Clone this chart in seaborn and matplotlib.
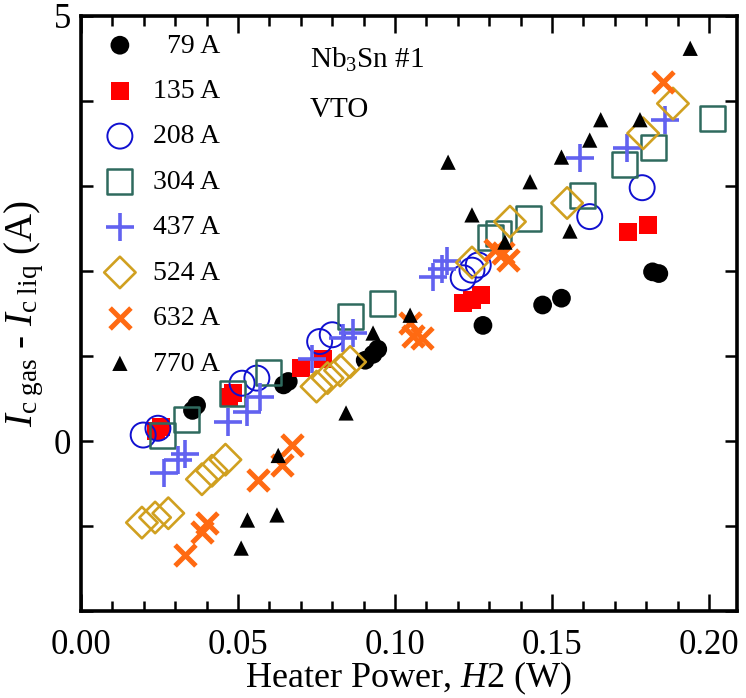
import pandas as pd
import matplotlib.pyplot as plt
import seaborn as sns
from matplotlib.ticker import MultipleLocator, FormatStrFormatter

# Heater power (W) and Ic(gas) - Ic(liq) (A), one pair of lists per transport current
x_79 = [0.0355, 0.0368, 0.0645, 0.0660, 0.0905, 0.0930, 0.0945, 0.1280, 0.1470, 0.1530, 0.1820, 0.1840]
y_79 = [0.36, 0.42, 0.66, 0.70, 0.95, 1.02, 1.08, 1.36, 1.60, 1.68, 1.99, 1.97]

x_135 = [0.0240, 0.0255, 0.0470, 0.0485, 0.0700, 0.0770, 0.1215, 0.1245, 0.1275, 0.1742, 0.1806]
y_135 = [0.12, 0.17, 0.52, 0.56, 0.86, 0.96, 1.62, 1.66, 1.72, 2.46, 2.54]

x_208 = [0.0198, 0.0245, 0.0513, 0.0560, 0.0760, 0.0800, 0.1217, 0.1245, 0.1265, 0.1620, 0.1787]
y_208 = [0.07, 0.15, 0.68, 0.74, 1.17, 1.25, 1.92, 2.01, 2.07, 2.64, 2.98]

x_304 = [0.0260, 0.0335, 0.0484, 0.0597, 0.0857, 0.0959, 0.1305, 0.1330, 0.1424, 0.1596, 0.1732, 0.1822, 0.2010]
y_304 = [0.06, 0.25, 0.56, 0.81, 1.46, 1.62, 2.40, 2.44, 2.62, 2.89, 3.25, 3.45, 3.80]

x_437 = [0.0265, 0.0310, 0.0330, 0.0468, 0.0530, 0.0570, 0.0735, 0.0835, 0.0865, 0.1120, 0.1150, 0.1165,
         0.1590, 0.1740, 0.1860]
y_437 = [-0.38, -0.22, -0.15, 0.22, 0.34, 0.52, 0.97, 1.21, 1.27, 1.93, 2.02, 2.12, 3.33, 3.45, 3.78]

x_524 = [0.0194, 0.0236, 0.0278, 0.0385, 0.0417, 0.0460, 0.0750, 0.0785, 0.0825, 0.0857, 0.1245, 0.1366,
         0.1548, 0.1790, 0.1885]
y_524 = [-0.96, -0.90, -0.85, -0.45, -0.35, -0.22, 0.64, 0.74, 0.83, 0.93, 2.10, 2.58, 2.80, 3.62, 3.97]

x_632 = [0.0331, 0.0385, 0.0400, 0.0564, 0.0640, 0.0672, 0.1048, 0.1057, 0.1086, 0.1318, 0.1344, 0.1360, 0.1853]
y_632 = [-1.34, -1.07, -0.97, -0.46, -0.28, -0.05, 1.39, 1.23, 1.21, 2.25, 2.21, 2.13, 4.22]

x_770 = [0.0510, 0.0530, 0.0624, 0.0628, 0.0844, 0.0930, 0.1048, 0.1169, 0.1245, 0.1350, 0.1430, 0.1530,
         0.1557, 0.1620, 0.1655, 0.1780, 0.1940]
y_770 = [-1.26, -0.93, -0.87, -0.17, 0.33, 1.27, 1.48, 3.28, 2.66, 2.34, 3.05, 3.34, 2.47, 3.54, 3.78, 3.78, 4.62]

labels = ['  79 A', '135 A', '208 A', '304 A', '437 A', '524 A', '632 A', '770 A']
xs = [x_79, x_135, x_208, x_304, x_437, x_524, x_632, x_770]
ys = [y_79, y_135, y_208, y_304, y_437, y_524, y_632, y_770]

# marker, size (pt^2), colour, filled, line width
styles = [
    ('o', 13.5 ** 2, '#000000', True, 0),
    ('s', 13 ** 2, '#ff0000', True, 0),
    ('o', 18 ** 2, '#1010d0', False, 1.4),
    ('s', 18 ** 2, '#2f6a5e', False, 1.8),
    ('+', 20 ** 2, '#6262f0', False, 2.6),
    ('D', 16 ** 2, '#d0a020', False, 1.9),
    ('x', 15 ** 2, '#ff6a12', False, 3.6),
    ('^', 11 ** 2, '#000000', True, 0),
]

sns.set_style('ticks')
plt.rcParams['font.family'] = ['Liberation Serif', 'DejaVu Serif']
plt.rcParams['mathtext.fontset'] = 'custom'
plt.rcParams['mathtext.rm'] = 'Liberation Serif'
plt.rcParams['mathtext.it'] = 'Liberation Serif:italic'
plt.rcParams['text.color'] = 'black'
plt.rcParams['axes.labelcolor'] = 'black'
plt.rcParams['axes.edgecolor'] = 'black'
plt.rcParams['xtick.color'] = 'black'
plt.rcParams['ytick.color'] = 'black'

fig = plt.figure(figsize=(7.46, 6.98), dpi=100)
ax = fig.add_axes([81 / 746, 1 - 611 / 698, 656 / 746, 595 / 698])

for lab, x, y, (mk, s, col, filled, lw) in zip(labels, xs, ys, styles):
    df = pd.DataFrame({'power': x, 'dIc': y})
    if mk in ('+', 'x'):
        sns.scatterplot(data=df, x='power', y='dIc', marker=mk, s=s, color=col,
                        linewidth=lw, label=lab, ax=ax)
    elif filled:
        sns.scatterplot(data=df, x='power', y='dIc', marker=mk, s=s, color=col,
                        edgecolor='none', linewidth=0, label=lab, ax=ax)
    else:
        sns.scatterplot(data=df, x='power', y='dIc', marker=mk, s=s, facecolors='none',
                        edgecolor=col, linewidth=lw, label=lab, ax=ax)

ax.set_xlim(0, 0.2089)
ax.set_ylim(-2, 5)
ax.xaxis.set_major_locator(MultipleLocator(0.05))
ax.xaxis.set_minor_locator(MultipleLocator(0.01))
ax.xaxis.set_major_formatter(FormatStrFormatter('%.2f'))
ax.yaxis.set_major_locator(MultipleLocator(5))
ax.yaxis.set_minor_locator(MultipleLocator(1))

for sp in ax.spines.values():
    sp.set_linewidth(2.6)
ax.tick_params(which='both', direction='in', top=True, right=True, width=1.8, labelsize=25)
ax.tick_params(axis='x', which='major', length=12, pad=13)
ax.tick_params(axis='x', which='minor', length=7)
ax.tick_params(axis='y', which='both', length=8.5, pad=7)

ax.set_xlabel('Heater Power, $\\mathit{H2}$ (W)', fontsize=26, labelpad=-2)
ax.set_ylabel('$I_{\\mathrm{c\\ gas}}$ - $I_{\\mathrm{c\\ liq}}$ (A)', fontsize=28, labelpad=6)

ax.text(0.349, 0.913, 'Nb$_3$Sn #1', transform=ax.transAxes, fontsize=21, va='baseline')
ax.text(0.349, 0.830, 'VTO', transform=ax.transAxes, fontsize=21, va='baseline')

ax.legend(loc='upper left', bbox_to_anchor=(0.0, 0.99), frameon=False, fontsize=20,
          handlelength=2.0, handletextpad=0.2, labelspacing=0.72, borderpad=0.4,
          borderaxespad=0.0, markerscale=1.0)

plt.savefig('out.png', dpi=100)
